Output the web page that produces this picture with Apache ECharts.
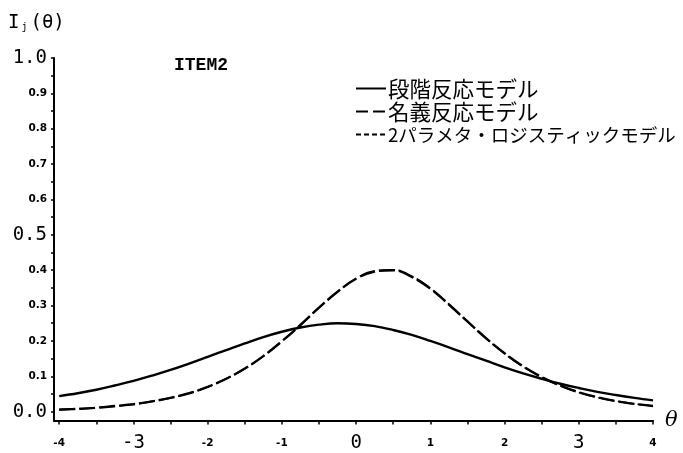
<!DOCTYPE html>
<html>
<head>
<meta charset="utf-8">
<script src="https://cdn.jsdelivr.net/npm/echarts@6/dist/echarts.min.js"></script>
<style>html,body{margin:0;padding:0;background:#fff}#c{width:683px;height:453px}</style>
</head>
<body>
<div id="c"></div>
<script>
// θ values
const theta = [-4,-3.75,-3.5,-3.25,-3,-2.75,-2.5,-2.25,-2,-1.75,-1.5,-1.25,-1,-0.75,-0.5,-0.25,0,0.25,0.5,0.75,1,1.25,1.5,1.75,2,2.25,2.5,2.75,3,3.25,3.5,3.75,4];
// 段階反応モデル (solid)
const graded = [0.044,0.052,0.062,0.074,0.087,0.102,0.118,0.136,0.155,0.174,0.193,0.211,0.226,0.238,0.246,0.250,0.248,0.242,0.231,0.217,0.200,0.182,0.163,0.144,0.125,0.108,0.093,0.079,0.067,0.056,0.047,0.039,0.032];
// 名義反応モデル (dashed)
const nominal = [0.006,0.008,0.011,0.016,0.021,0.029,0.039,0.052,0.070,0.093,0.122,0.157,0.199,0.245,0.294,0.339,0.376,0.396,0.400,0.381,0.348,0.303,0.255,0.208,0.165,0.128,0.098,0.074,0.055,0.041,0.030,0.022,0.016];
// 2パラメタ・ロジスティックモデル (short dashes)
const twoPL = [0.005,0.008,0.011,0.015,0.021,0.029,0.039,0.052,0.070,0.093,0.121,0.157,0.199,0.245,0.294,0.339,0.377,0.398,0.401,0.383,0.349,0.304,0.255,0.207,0.164,0.127,0.097,0.073,0.054,0.040,0.030,0.022,0.016];

const seriesNames = ['段階反応モデル','名義反応モデル','2パラメタ・ロジスティックモデル'];
const xLabelValues = [-4,-3,-2,-1,0,1,2,3,4];
const xBigLabels = [-3,0,3];
const xTickValues = [-4,-3.5,-3,-2.5,-2,-1.5,-1,-0.5,0,0.5,1,1.5,2,2.5,3,3.5,4];
const yLabelValues = [0,0.1,0.2,0.3,0.4,0.5,0.6,0.7,0.8,0.9,1.0];
const yBigLabels = [0,0.5,1.0];
const yTickValues = [0,0.05,0.1,0.15,0.2,0.25,0.3,0.35,0.4,0.45,0.5,0.55,0.6,0.65,0.7,0.75,0.8,0.85,0.9,0.95,1.0];
const titleText = 'ITEM2';

const zip = (ys) => theta.map((t, i) => [t, ys[i]]);

const chart = echarts.init(document.getElementById('c'), null, {renderer: 'canvas'});
const bigFont = {fontFamily: 'DejaVu Sans Mono', fontSize: 19, color: '#000'};
const smallFont = {fontFamily: 'DejaVu Sans', fontSize: 10.5, fontWeight: 'bold', color: '#000'};
const lineW = 2.4;

chart.setOption({
  animation: false,
  backgroundColor: '#fff',
  grid: {left: 54, right: 30, top: 58, bottom: 31},
  xAxis: {
    type: 'value', min: -4.07, max: 4,
    name: 'θ', nameLocation: 'end', nameGap: 12,
    nameTextStyle: {fontFamily: 'DejaVu Serif', fontStyle: 'italic', fontSize: 21, color: '#000', verticalAlign: 'middle', padding: [0, 0, 6, 0]},
    axisLine: {onZero: false, lineStyle: {color: '#000', width: 2}},
    axisTick: {customValues: xTickValues, length: 4, lineStyle: {color: '#000', width: 1.5}},
    axisLabel: {
      customValues: xLabelValues, margin: 23, verticalAlign: 'middle',
      formatter: v => (xBigLabels.includes(v) ? '{b|' : '{s|') + (v < 0 ? '-' + (-v) : String(v)) + '}',
      rich: {b: bigFont, s: smallFont}
    },
    splitLine: {show: false}
  },
  yAxis: {
    type: 'value', min: -0.025, max: 1.0,
    axisLine: {onZero: false, lineStyle: {color: '#000', width: 2}},
    axisTick: {customValues: yTickValues, length: 3, lineStyle: {color: '#000', width: 1.5}},
    axisLabel: {
      customValues: yLabelValues, margin: 7,
      formatter: v => (yBigLabels.some(b => Math.abs(b - v) < 1e-9) ? '{b|' : '{s|') + v.toFixed(1) + '}',
      rich: {b: bigFont, s: smallFont}
    },
    splitLine: {show: false}
  },
  legend: {
    orient: 'vertical', left: 350, top: 72, itemWidth: 30, itemHeight: 14, itemGap: 0,
    itemStyle: {color: 'rgba(0,0,0,0)', borderWidth: 0, opacity: 0},
    data: [
      {name: seriesNames[0], textStyle: {fontSize: 21.5, lineHeight: 23}},
      {name: seriesNames[1], textStyle: {fontSize: 21.5, lineHeight: 23}, lineStyle: {type: [12, 5], width: 2}},
      {name: seriesNames[2], textStyle: {fontSize: 18.5, lineHeight: 23}, lineStyle: {type: [5, 3], width: 2}}
    ],
    textStyle: {fontFamily: 'Noto Sans CJK JP', color: '#000', padding: [0, 0, 0, -3]},
    selectedMode: false
  },
  graphic: [
    {type: 'text', left: 8, top: 14, style: {
      text: '{a|I}{s|j}{a|(θ)}',
      rich: {
        a: {fontFamily: 'DejaVu Sans Mono', fontSize: 19, fill: '#000'},
        s: {fontFamily: 'DejaVu Sans Mono', fontSize: 10, fill: '#000', padding: [8, 3, 0, 2]}
      }
    }},
    {type: 'text', left: 174, top: 56, style: {text: titleText, fontFamily: 'Liberation Mono', fontWeight: 'bold', fontSize: 18, fill: '#000'}}
  ],
  series: [
    {name: seriesNames[0], type: 'line', data: zip(graded), smooth: 0.4, symbol: 'none',
     lineStyle: {color: '#000', width: lineW, type: 'solid'}, itemStyle: {color: '#000'}},
    {name: seriesNames[1], type: 'line', data: zip(nominal), smooth: 0.4, symbol: 'none',
     lineStyle: {color: '#000', width: lineW, type: [16, 4]}, itemStyle: {color: '#000'}},
    {name: seriesNames[2], type: 'line', data: zip(twoPL), smooth: 0.4, symbol: 'none',
     lineStyle: {color: '#000', width: 1.6, type: [16, 4]}, itemStyle: {color: '#000'}}
  ]
});
</script>
</body>
</html>
